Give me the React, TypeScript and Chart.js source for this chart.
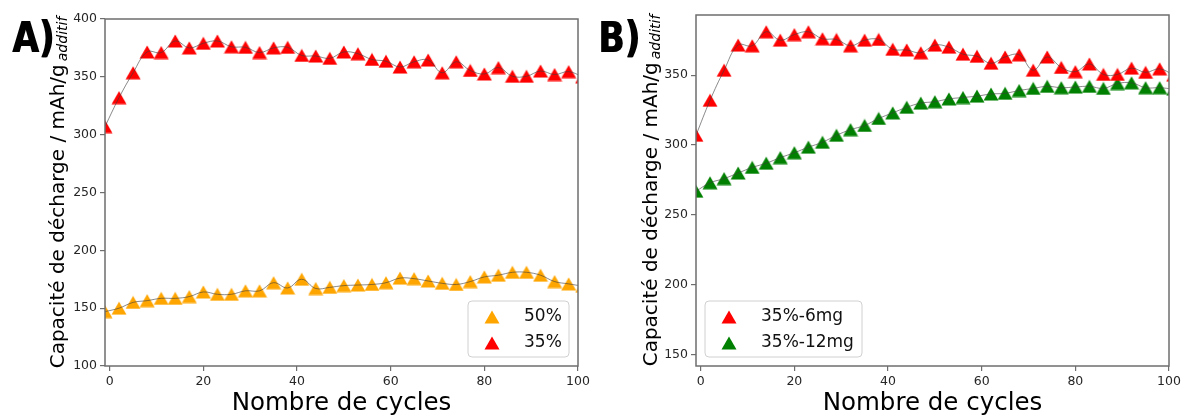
import React, { useEffect, useRef } from 'react';
import { Chart, registerables } from 'chart.js';

Chart.register(...registerables);

// ---------- data ----------
const CYCLES = [-1, 2, 5, 8, 11, 14, 17, 20, 23, 26, 29, 32, 35, 38, 41, 44, 47, 50, 53, 56, 59, 62, 65, 68, 71, 74, 77, 80, 83, 86, 89, 92, 95, 98, 101];

const CAP_50 = [147, 150, 155, 156.5, 158.5, 158.5, 160, 164, 162, 162, 165, 165, 172, 167.5, 175, 167, 168, 169.5, 170, 170.5, 172, 176, 175.5, 173.5, 171.5, 170.5, 173, 177, 178.5, 181, 181, 178.5, 173, 171, 169];

const CAP_35 = [307, 332, 353.5, 371.5, 371, 381, 375, 379, 381, 376, 375.5, 371, 375, 375.5, 368.5, 368, 366, 371.5, 370, 365, 363.5, 358.5, 363, 364.5, 353.5, 363, 355.5, 352.5, 358, 350.5, 350.5, 355, 352, 354.5, 350];

const CAP_35_12MG = [267, 273, 276, 280, 284, 287, 291, 294.5, 298.5, 302, 307, 311, 314, 319, 323, 327, 330, 331, 333, 334, 335, 336.5, 337, 339, 340.5, 342, 341, 341.5, 342, 340.5, 344, 344.5, 341, 341, 340];

const X_TICKS = [0, 20, 40, 60, 80, 100];
const Y_TICKS_A = [100, 150, 200, 250, 300, 350, 400];
const Y_TICKS_B = [150, 200, 250, 300, 350];

const LABELS_A = ['50%', '35%'];
const LABELS_B = ['35%-6mg', '35%-12mg'];
const Y_TITLE = 'Capacité de décharge / mAh/g';
const Y_SUB = 'additif';
const X_TITLE = 'Nombre de cycles';

const RED = '#ff0000';
const ORANGE = '#ffa500';
const GREEN = '#008000';
const SPINE = '#6e6e6e';
const TICK_COLOR = '#262626';
const FONT = "'DejaVu Sans', sans-serif";

type Series = { label: string; values: number[]; color: string };
type Panel = {
  tag: string;
  series: Series[];
  yMin: number;
  yMax: number;
  yTicks: number[];
  padTop: number;
  padRight: number;
  yWidth: number;
  legend: { x: number; y: number; w: number; h: number; markX: number; textX: number };
  tagX: number;
  titleX: number;
};

function triangle(ctx: CanvasRenderingContext2D, x: number, y: number, color: string) {
  ctx.beginPath();
  ctx.moveTo(x, y - 6.5);
  ctx.lineTo(x + 7.5, y + 6.5);
  ctx.lineTo(x - 7.5, y + 6.5);
  ctx.closePath();
  ctx.fillStyle = color;
  ctx.fill();
}

const markerCache: Record<string, HTMLCanvasElement> = {};
function markerImage(color: string): HTMLCanvasElement {
  if (markerCache[color]) return markerCache[color];
  const c = document.createElement('canvas');
  c.width = 16;
  c.height = 14;
  const g = c.getContext('2d')!;
  g.beginPath();
  g.moveTo(8, 0.5);
  g.lineTo(15.5, 13.5);
  g.lineTo(0.5, 13.5);
  g.closePath();
  g.fillStyle = color;
  g.fill();
  markerCache[color] = c;
  return c;
}

function makeDecor(p: Panel) {
  return {
    id: 'decor',
    afterDraw(chart: any) {
      const ctx: CanvasRenderingContext2D = chart.ctx;
      const { left, right, top, bottom } = chart.chartArea;
      ctx.save();
      // spines
      ctx.strokeStyle = SPINE;
      ctx.lineWidth = 1.5;
      ctx.strokeRect(left, top, right - left, bottom - top);

      // panel tag (condensed heavy bold)
      ctx.fillStyle = '#000';
      ctx.font = "bold 43px 'DejaVu Sans', sans-serif";
      ctx.textAlign = 'left';
      ctx.textBaseline = 'alphabetic';
      ctx.save();
      ctx.translate(p.tagX, 52);
      ctx.scale(0.8, 1);
      ctx.fillText(p.tag, 0, 0);
      ctx.fillText(p.tag, 1.2, 0);
      ctx.restore();

      // x title
      ctx.font = `24.5px ${FONT}`;
      ctx.textAlign = 'center';
      ctx.fillText(X_TITLE, (left + right) / 2, 410);

      // y title with subscript
      ctx.font = `20px ${FONT}`;
      const wMain = ctx.measureText(Y_TITLE).width;
      ctx.font = `italic 14px ${FONT}`;
      const wSub = ctx.measureText(Y_SUB).width;
      const total = wMain + 3 + wSub;
      const cy = (top + bottom) / 2;
      ctx.save();
      ctx.translate(p.titleX, cy + total / 2);
      ctx.rotate(-Math.PI / 2);
      ctx.textAlign = 'left';
      ctx.font = `20px ${FONT}`;
      ctx.fillText(Y_TITLE, 0, 0);
      ctx.font = `italic 14px ${FONT}`;
      ctx.fillText(Y_SUB, wMain + 3, 3);
      ctx.restore();

      // legend
      const L = p.legend;
      ctx.beginPath();
      const r = 4;
      ctx.moveTo(L.x + r, L.y);
      ctx.lineTo(L.x + L.w - r, L.y);
      ctx.quadraticCurveTo(L.x + L.w, L.y, L.x + L.w, L.y + r);
      ctx.lineTo(L.x + L.w, L.y + L.h - r);
      ctx.quadraticCurveTo(L.x + L.w, L.y + L.h, L.x + L.w - r, L.y + L.h);
      ctx.lineTo(L.x + r, L.y + L.h);
      ctx.quadraticCurveTo(L.x, L.y + L.h, L.x, L.y + L.h - r);
      ctx.lineTo(L.x, L.y + r);
      ctx.quadraticCurveTo(L.x, L.y, L.x + r, L.y);
      ctx.closePath();
      ctx.fillStyle = 'rgba(255,255,255,0.8)';
      ctx.fill();
      ctx.strokeStyle = '#d0d0d0';
      ctx.lineWidth = 1;
      ctx.stroke();
      ctx.font = `17px ${FONT}`;
      ctx.textBaseline = 'middle';
      ctx.textAlign = 'left';
      p.series.forEach((s, i) => {
        const yy = L.y + 16 + i * 26;
        triangle(ctx, L.markX, yy, s.color);
        ctx.fillStyle = '#111';
        ctx.fillText(s.label, L.textX, yy);
      });
      ctx.restore();
    },
  };
}

function buildConfig(p: Panel): any {
  const datasets: any[] = [];
  p.series.forEach((s) => {
    const pts = CYCLES.map((c, i) => ({ x: c, y: s.values[i] }));
    datasets.push({
      label: s.label + ' line',
      data: pts,
      showLine: true,
      pointRadius: 0,
      borderColor: 'rgba(60,60,60,0.6)',
      borderWidth: 1,
      tension: 0.4,
      clip: 0,
      order: 1,
    });
    datasets.push({
      label: s.label,
      data: pts,
      showLine: false,
      pointStyle: markerImage(s.color),
      pointRadius: 8,
      backgroundColor: s.color,
      borderColor: s.color,
      borderWidth: 0,
      clip: 0,
      order: 2,
    });
  });
  const tickFont = { family: FONT, size: 12.5 };
  const grid = { display: true, drawOnChartArea: false, drawTicks: true, tickLength: 5, color: SPINE, lineWidth: 1.2 };
  return {
    type: 'line',
    data: { datasets },
    options: {
      animation: false,
      responsive: false,
      devicePixelRatio: 1,
      layout: { padding: { left: 0, top: p.padTop, right: p.padRight, bottom: 0 } },
      plugins: { legend: { display: false }, tooltip: { enabled: false } },
      scales: {
        x: {
          type: 'linear',
          min: -1,
          max: 100,
          afterBuildTicks: (s: any) => {
            s.ticks = X_TICKS.map((v) => ({ value: v }));
          },
          afterFit: (s: any) => {
            s.height = 51;
          },
          grid,
          border: { display: false },
          ticks: { font: tickFont, color: TICK_COLOR, padding: 3, maxRotation: 0, autoSkip: false },
        },
        y: {
          type: 'linear',
          min: p.yMin,
          max: p.yMax,
          afterBuildTicks: (s: any) => {
            s.ticks = p.yTicks.map((v) => ({ value: v }));
          },
          afterFit: (s: any) => {
            s.width = p.yWidth;
          },
          grid,
          border: { display: false },
          ticks: { font: tickFont, color: TICK_COLOR, padding: 3, autoSkip: false },
        },
      },
    },
    plugins: [makeDecor(p)],
  };
}

const PANEL_A: Panel = {
  tag: 'A)',
  series: [
    { label: LABELS_A[0], values: CAP_50, color: ORANGE },
    { label: LABELS_A[1], values: CAP_35, color: RED },
  ],
  yMin: 100,
  yMax: 400,
  yTicks: Y_TICKS_A,
  padTop: 19,
  padRight: 15,
  yWidth: 105,
  legend: { x: 468, y: 301, w: 101, h: 56, markX: 492, textX: 524 },
  tagX: 12,
  titleX: 64,
};

const PANEL_B: Panel = {
  tag: 'B)',
  series: [
    { label: LABELS_B[0], values: CAP_35, color: RED },
    { label: LABELS_B[1], values: CAP_35_12MG, color: GREEN },
  ],
  yMin: 142,
  yMax: 393,
  yTicks: Y_TICKS_B,
  padTop: 15,
  padRight: 17,
  yWidth: 103,
  legend: { x: 112, y: 301, w: 157, h: 56, markX: 136, textX: 168 },
  tagX: 5,
  titleX: 64,
};

function ChartPanel({ panel, left }: { panel: Panel; left: number }) {
  const ref = useRef<HTMLCanvasElement | null>(null);
  useEffect(() => {
    if (!ref.current) return;
    const chart = new Chart(ref.current, buildConfig(panel));
    return () => chart.destroy();
  }, [panel]);
  return (
    <canvas
      ref={ref}
      width={593}
      height={417}
      style={{ position: 'absolute', left, top: 0, width: 593, height: 417 }}
    />
  );
}

export default function App() {
  return (
    <div style={{ position: 'absolute', left: 0, top: 0, width: 1186, height: 417, background: '#fff' }}>
      <ChartPanel panel={PANEL_A} left={0} />
      <ChartPanel panel={PANEL_B} left={593} />
    </div>
  );
}
